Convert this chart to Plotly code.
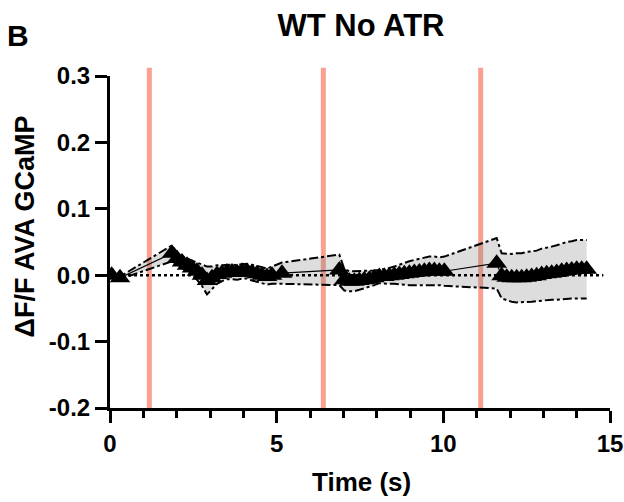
import numpy as np
import plotly.graph_objects as go

# ---- data ----
time_s = [0.05, 0.30,
          1.86, 2.01, 2.16, 2.31, 2.46, 2.61, 2.76, 2.91, 3.06, 3.21, 3.36, 3.51,
          3.66, 3.81, 3.96, 4.11, 4.26, 4.41, 4.56, 4.71, 4.86, 5.16,
          6.88, 7.03, 7.18, 7.33, 7.48, 7.63, 7.78, 7.93, 8.08, 8.23, 8.38, 8.53,
          8.68, 8.83, 8.98, 9.13, 9.28, 9.43, 9.58, 9.73, 9.88, 10.03,
          11.60, 11.75, 11.90, 12.05, 12.20, 12.35, 12.50, 12.65, 12.80, 12.95,
          13.10, 13.25, 13.40, 13.55, 13.70, 13.85, 14.00, 14.15, 14.30]
mean_dff = [0.000, -0.004,
            0.033, 0.025, 0.020, 0.015, 0.011, 0.006, 0.000, -0.008, -0.004, 0.001, 0.003, 0.005,
            0.005, 0.004, 0.006, 0.006, 0.004, 0.002, 0.000, -0.002, 0.000, 0.003,
            0.008, -0.007, -0.009, -0.009, -0.008, -0.007, -0.006, -0.004, -0.002, -0.002, -0.001, 0.000,
            0.001, 0.002, 0.003, 0.004, 0.005, 0.006, 0.007, 0.007, 0.006, 0.006,
            0.018, -0.001, -0.003, -0.004, -0.004, -0.004, -0.003, -0.002, -0.001, 0.001,
            0.002, 0.003, 0.004, 0.006, 0.007, 0.008, 0.009, 0.009, 0.009]
sem_dff = [0.002, 0.002,
           0.012, 0.009, 0.009, 0.010, 0.011, 0.013, 0.016, 0.021, 0.017, 0.014, 0.012, 0.011,
           0.011, 0.011, 0.011, 0.011, 0.012, 0.012, 0.012, 0.012, 0.013, 0.016,
           0.023, 0.016, 0.015, 0.015, 0.014, 0.013, 0.012, 0.011, 0.010, 0.011, 0.012, 0.013,
           0.015, 0.016, 0.018, 0.019, 0.020, 0.020, 0.021, 0.021, 0.021, 0.022,
           0.038, 0.034, 0.035, 0.036, 0.037, 0.037, 0.038, 0.038, 0.038, 0.039,
           0.039, 0.040, 0.041, 0.042, 0.043, 0.043, 0.044, 0.044, 0.044]
stim_times = [1.18, 6.40, 11.12]
zero_x = [0.0, 14.8]
zero_y = [0.0, 0.0]
x_ticks = [0, 5, 10, 15]
x_labels = ["0", "5", "10", "15"]
y_ticks = [-0.2, -0.1, 0.0, 0.1, 0.2, 0.3]
y_labels = ["-0.2", "-0.1", "0.0", "0.1", "0.2", "0.3"]

t = np.array(time_s)
m = np.array(mean_dff)
s = np.array(sem_dff)
upper = m + s
lower = m - s

FONT = "Liberation Sans, Arial, sans-serif"

fig = go.Figure()
# band fill
fig.add_trace(go.Scatter(
    x=np.concatenate([t, t[::-1]]), y=np.concatenate([upper, lower[::-1]]),
    fill="toself", fillcolor="rgba(128,128,128,0.27)", line=dict(width=0),
    mode="lines", hoverinfo="skip", showlegend=False))
# band borders
for yy in (upper, lower):
    fig.add_trace(go.Scatter(x=t, y=yy, mode="lines",
                             line=dict(color="black", width=2, dash="dashdot"),
                             showlegend=False))
# zero dotted line
fig.add_trace(go.Scatter(x=zero_x, y=zero_y, mode="lines",
                         line=dict(color="black", width=2.5, dash="dot"),
                         showlegend=False))
# mean
fig.add_trace(go.Scatter(x=t, y=m, mode="lines+markers",
                         line=dict(color="black", width=1.2),
                         marker=dict(symbol="triangle-up", size=18, color="black"),
                         showlegend=False))

for st in stim_times:
    fig.add_shape(type="line", xref="x", yref="paper", x0=st, x1=st, y0=0, y1=1.025,
                  line=dict(color="#F9A090", width=5), layer="below")

fig.update_layout(
    width=624, height=502,
    margin=dict(l=110, r=14, t=76, b=94),
    paper_bgcolor="white", plot_bgcolor="white",
    title=dict(text="WT No ATR", x=0.5785, xanchor="center", y=0.95, yanchor="middle",
               font=dict(family=FONT, size=31, color="black", weight="bold")),
    font=dict(family=FONT, color="black", weight="bold"),
)
fig.update_xaxes(range=[0, 15], tickvals=x_ticks, ticktext=x_labels, automargin=False,
                 showline=True, linecolor="black", linewidth=3,
                 ticks="outside", ticklen=12, tickwidth=3, tickcolor="black",
                 tickfont=dict(family=FONT, size=24, color="black", weight="bold"),
                 minor=dict(dtick=1, ticks="outside", ticklen=7, tickwidth=3, tickcolor="black"),
                 showgrid=False, zeroline=False)
fig.update_yaxes(range=[-0.2, 0.3], tickvals=y_ticks, ticktext=y_labels, automargin=False,
                 showline=True, linecolor="black", linewidth=3,
                 ticks="outside", ticklen=12, tickwidth=3, tickcolor="black",
                 tickfont=dict(family=FONT, size=24, color="black", weight="bold"),
                 showgrid=False, zeroline=False)

fig.add_annotation(text="Time (s)", xref="paper", yref="paper",
                   x=0.502, y=-0.223, showarrow=False,
                   xanchor="center", yanchor="middle",
                   font=dict(family=FONT, size=26, color="black", weight="bold"))
fig.add_annotation(text="ΔF/F AVA GCaMP", xref="paper", yref="paper",
                   x=-0.17, y=0.547, textangle=-90, showarrow=False,
                   xanchor="center", yanchor="middle",
                   font=dict(family=FONT, size=27, color="black", weight="bold"))
fig.add_annotation(text="B", xref="paper", yref="paper", x=-0.21, y=1.123,
                   showarrow=False, xanchor="left", yanchor="middle",
                   font=dict(family=FONT, size=30, color="black", weight="bold"))

fig.write_html("out.html", config={"displayModeBar": False},
               post_script="document.body.style.margin='0';")
